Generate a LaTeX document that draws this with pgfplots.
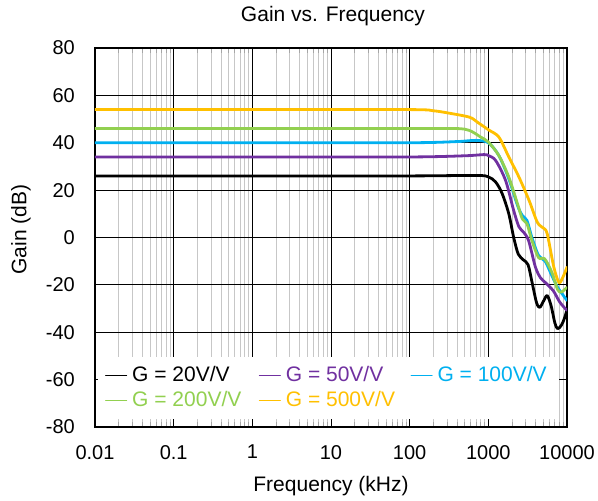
\documentclass[border=0pt]{standalone}
\usepackage{fontspec}
\setmainfont{Liberation Sans}
\usepackage{pgfplots}
\pgfplotsset{compat=1.18}

\definecolor{g20}{RGB}{0,0,0}
\definecolor{g50}{HTML}{7030A0}
\definecolor{g100}{HTML}{00B0F0}
\definecolor{g200}{HTML}{92D050}
\definecolor{g500}{HTML}{FFC000}

\begin{document}
\fontsize{20}{24}\selectfont
\begin{tikzpicture}
\begin{axis}[
  name=ax,
  scale only axis, width=472pt, height=379pt,
  xmode=log, xmin=0.01, xmax=10000,
  ymin=-80, ymax=80,
  xtick={0.01,0.1,1,10,100,1000,10000},
  xticklabels={0.01,0.1,1,10,100,1000,10000},
  ytick={-80,-60,-40,-20,0,20,40,60,80},
  yticklabels={-80,-60,-40,-20,0,20,40,60,80},
  xmajorgrids, xminorgrids, ymajorgrids,
  major grid style={black, line width=0.8pt},
  minor grid style={black!22, line width=0.8pt},
  axis line style={black, line width=1.6pt},
  tick align=inside,
  major tick length=6pt, minor tick length=5pt,
  major tick style={black, line width=0.8pt},
  minor tick style={black!35, line width=0.8pt},
  yticklabel style={anchor=east, inner sep=0pt, xshift=-20pt},
  xticklabel style={anchor=north, inner sep=0pt, yshift=-18pt},
  title={Gain vs. Frequency},
  title style={at={(axis description cs:0.5,1)}, anchor=base, inner sep=0pt, yshift=21pt, xshift=2pt,
    font=\fontsize{21}{25}\selectfont},
  xlabel={Frequency (kHz)},
  xlabel style={at={(axis description cs:0.5,0)}, anchor=north, inner sep=0pt, yshift=-49pt,
    font=\fontsize{21}{25}\selectfont},
  ylabel={Gain (dB)},
  ylabel style={at={(axis description cs:-0.1568,0.521)}, anchor=center, inner sep=0pt,
    font=\fontsize{21}{25}\selectfont},
  legend columns=3,
  legend cell align=left,
  legend style={at={(axis description cs:0.0064,0.1847)}, anchor=north west,
    draw=none, fill=white, inner xsep=7pt, inner ysep=6pt,
    font=\fontsize{21}{25}\selectfont,
    nodes={inner xsep=5pt, inner ysep=3.5pt, text height=15pt, text depth=3pt},
    /tikz/column 2/.style={column sep=12.5pt},
    /tikz/column 4/.style={column sep=10.5pt}},
  legend image code/.code={\draw[#1, line width=1pt] (0pt,0pt) -- (21pt,0pt);},
  every axis plot/.append style={line width=2.8pt, smooth, line join=round, line cap=round},
]
\addplot[g20] coordinates {
  (0.01,26) (1,26) (100,26) (700,26.2) (1000,25.6) (1240,23.4) (1500,18.5)
  (1820,10) (2100,0) (2400,-7) (2800,-9.5) (3200,-11.5) (3600,-19)
  (4100,-27.5) (4500,-29.5) (5000,-27) (5600,-24.5) (6300,-29) (7000,-36)
  (7600,-38.5) (8500,-37) (9300,-34) (10000,-30.5)
};
\addlegendentry{\textcolor{g20}{G = 20V/V}}
\addplot[g50] coordinates {
  (0.01,34) (1,34) (100,34) (500,34.5) (880,35) (1000,34.6) (1240,32.5)
  (1660,24) (2100,11.4) (2450,4.5) (2800,2.3) (3250,-1.3) (3970,-12.5)
  (4600,-17) (5300,-19) (6700,-22.5) (8100,-27.3) (10000,-30.8)
};
\addlegendentry{\textcolor{g50}{G = 50V/V}}
\addplot[g100] coordinates {
  (0.01,40) (1,40) (100,40) (400,40.5) (690,41) (1000,40) (1360,34.6)
  (1820,24.8) (2350,13.5) (2700,9.3) (3100,7.2) (3580,0) (4350,-7.6)
  (5270,-10) (6400,-16) (7600,-21) (10000,-26.6)
};
\addlegendentry{\textcolor{g100}{G = 100V/V}}
\addplot[g200] coordinates {
  (0.01,46) (1,46) (100,46) (390,46) (575,45.2) (800,42.4) (1000,40.3)
  (1360,34.6) (1820,25.5) (2350,14.2) (2700,7.9) (3100,5.8) (3580,-1.3)
  (4350,-8.5) (5200,-9) (6400,-14.6) (7600,-22) (8500,-23) (10000,-21)
};
\addlegendentry{\textcolor{g200}{G = 200V/V}}
\addplot[g500] coordinates {
  (0.01,54) (1,54) (100,54) (200,53.5) (316,52.5) (575,50.8) (725,48.7)
  (1000,45.5) (1360,42.4) (1820,34) (2450,25.5) (3300,15.6) (4200,6.4)
  (5000,4) (5600,1.6) (6800,-12.5) (7900,-19) (8800,-17) (10000,-12.5)
};
\addlegendentry{\textcolor{g500}{G = 500V/V}}
\end{axis}
\pgfresetboundingbox
\path[use as bounding box] ([xshift=-95pt,yshift=-73pt]ax.south west)
  rectangle ([xshift=31pt,yshift=48pt]ax.north east);
\end{tikzpicture}
\end{document}
